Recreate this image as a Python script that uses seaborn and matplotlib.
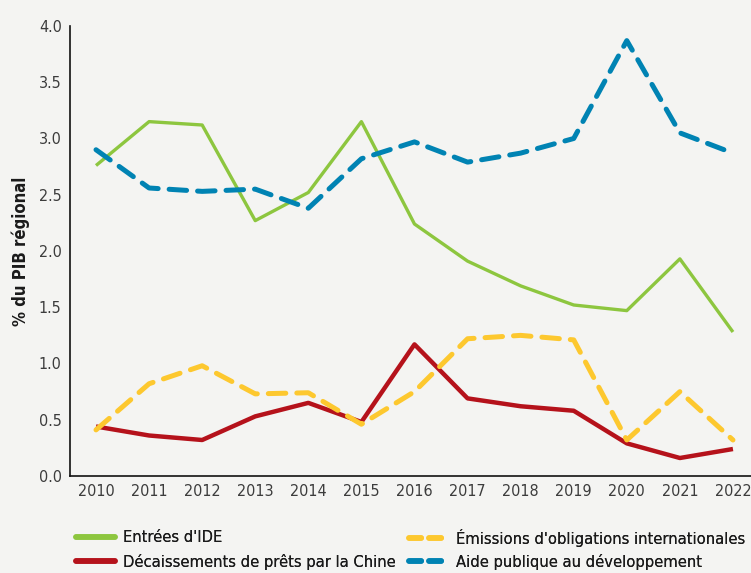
import matplotlib
matplotlib.use("Agg")
import matplotlib.pyplot as plt
import seaborn as sns
import pandas as pd
from matplotlib.lines import Line2D

years = list(range(2010, 2023))
fdi = [2.76, 3.15, 3.12, 2.27, 2.52, 3.15, 2.24, 1.91, 1.69, 1.52, 1.47, 1.93, 1.28]
china = [0.44, 0.36, 0.32, 0.53, 0.65, 0.48, 1.17, 0.69, 0.62, 0.58, 0.29, 0.16, 0.24]
bonds = [0.41, 0.82, 0.98, 0.73, 0.74, 0.46, 0.75, 1.22, 1.25, 1.21, 0.32, 0.75, 0.32]
oda = [2.90, 2.56, 2.53, 2.55, 2.38, 2.82, 2.97, 2.79, 2.87, 3.00, 3.87, 3.05, 2.87]

names = ["Entrées d'IDE", "Décaissements de prêts par la Chine",
         "Émissions d'obligations internationales", "Aide publique au développement"]
yticks = [0.0, 0.5, 1.0, 1.5, 2.0, 2.5, 3.0, 3.5, 4.0]

df = pd.concat([
    pd.DataFrame({"year": years, "value": vals, "series": n})
    for n, vals in zip(names, [fdi, china, bonds, oda])
])

sns.set_theme(style="white")
plt.rcParams['font.family'] = ['DejaVu Sans']
plt.rcParams['font.stretch'] = 'condensed'

bg = "#f4f4f2"
fig = plt.figure(figsize=(7.51, 5.73), dpi=100, facecolor=bg)
ax = fig.add_axes([70/751, 1-476/573, 1-70/751, (476-26)/573])
ax.set_facecolor(bg)

palette = {names[0]: "#8dc63f", names[1]: "#b5121b", names[2]: "#fdc82f", names[3]: "#0083b3"}
dashes = {names[0]: "", names[1]: "", names[2]: (3.5, 2.2), names[3]: (3.5, 2.2)}
sizes = {names[0]: 2.4, names[1]: 3.2, names[2]: 3.6, names[3]: 3.6}

sns.lineplot(data=df, x="year", y="value", hue="series", style="series",
             size="series", sizes=sizes, dashes=dashes, palette=palette,
             hue_order=names, style_order=names, size_order=names, ax=ax, legend=False)
for ln in ax.get_lines():
    ln.set_solid_capstyle("butt")
    ln.set_dash_capstyle("round")

ax.set_xlim(2009.51, 2022.34)
ax.set_ylim(0, 4.0)
ax.set_xticks(years)
ax.set_xticklabels([str(y) for y in years])
ax.set_yticks(yticks)
ax.set_yticklabels([f"{v:.1f}" for v in yticks])
ax.tick_params(axis="both", length=0, labelsize=11.5, colors="#3c3c3c", pad=6)
ax.set_xlabel("")
ax.set_ylabel("% du PIB régional", fontsize=12, fontweight="bold", color="#1a1a1a", labelpad=6)
for s in ["top", "right"]:
    ax.spines[s].set_visible(False)
for s in ["left", "bottom"]:
    ax.spines[s].set_color("#111111")
    ax.spines[s].set_linewidth(1.2)

def mk(n):
    return Line2D([], [], color=palette[n], lw=4,
                  linestyle="-" if n in names[:2] else (0, (2.2, 1.4)),
                  dash_capstyle="round", solid_capstyle="round")

kw = dict(loc="center left", frameon=False, fontsize=11.8, handlelength=2.4,
          handletextpad=0.45, labelcolor="#1a1a1a", borderaxespad=0, borderpad=0)
pos = [(76, 538), (76, 562), (409, 538), (409, 562)]
for n, (px, py) in zip(names, pos):
    fig.add_artist(fig.legend([mk(n)], [n], bbox_to_anchor=(px/751, 1-py/573), **kw))

fig.savefig("out.png", dpi=100, facecolor=bg)
